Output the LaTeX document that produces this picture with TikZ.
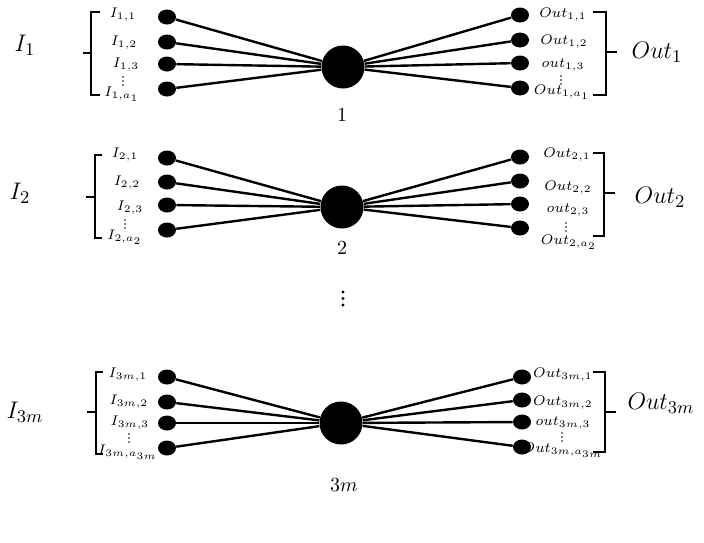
\documentclass[tikz,border=0pt]{standalone}
\usetikzlibrary{shapes.geometric}

\begin{document}
\begin{tikzpicture}[x=0.5pt, y=-0.5pt,
    dot/.style={ellipse, fill, minimum width=9pt, minimum height=7.5pt, inner sep=0pt},
    hub/.style={circle, fill, minimum size=21.5pt, inner sep=0pt},
    lab/.style={font=\fontsize{7.5}{8}\selectfont, inner sep=0pt},
    big/.style={font=\fontsize{12.5}{14}\selectfont, inner sep=0pt},
    num/.style={font=\fontsize{10}{11}\selectfont, inner sep=0pt},
    edge/.style={line width=1.2pt},
    brk/.style={line width=1pt}]
    \useasboundingbox (0,0) rectangle (704,542);

    % block 1
    \node at (343, 67) [hub] (h1) {};
    \node at (342, 115) [num] {$1$};
    \node at (167, 17) [dot] (a11) {};
    \node at (167, 42) [dot] (a12) {};
    \node at (167, 64) [dot] (a13) {};
    \node at (167, 89) [dot] (a14) {};
    \node at (520, 15) [dot] (b11) {};
    \node at (520, 40) [dot] (b12) {};
    \node at (520, 63) [dot] (b13) {};
    \node at (520, 88) [dot] (b14) {};

    \draw[edge] (a11) -- (h1);
    \draw[edge] (a12) -- (h1);
    \draw[edge] (a13) -- (h1);
    \draw[edge] (a14) -- (h1);
    \draw[edge] (h1) -- (b11);
    \draw[edge] (h1) -- (b12);
    \draw[edge] (h1) -- (b13);
    \draw[edge] (h1) -- (b14);

    \node at (123, 15) [lab] {$I_{1,1}$};
    \node at (124, 43) [lab] {$I_{1,2}$};
    \node at (126, 65) [lab] {$I_{1,3}$};
    \node at (122, 94) [lab] {$I_{1,a_1}$};
    \node at (563, 15) [lab] {$Out_{1,1}$};
    \node at (564, 42) [lab] {$Out_{1,2}$};
    \node at (563, 65) [lab] {$out_{1,3}$};
    \node at (562, 92) [lab] {$Out_{1,a_1}$};
    \fill (123, 77) circle (0.8) (123, 81) circle (0.8) (123, 85) circle (0.8);
    \fill (561, 76) circle (0.8) (561, 80) circle (0.8) (561, 84) circle (0.8);

    \draw[brk] (100, 12) -- (91, 12) -- (91, 95) -- (100, 95);
    \draw[brk] (91, 53) -- (83, 53);
    \draw[brk] (593, 12) -- (606, 12) -- (606, 95) -- (593, 95);
    \draw[brk] (606, 52) -- (617, 52);
    \node at (25, 45) [big] {$I_1$};
    \node at (657, 52) [big] {$Out_1$};

    % block 2
    \node at (342, 207) [hub] (h2) {};
    \node at (342, 248) [num] {$2$};
    \node at (167, 158) [dot] (a21) {};
    \node at (167, 182) [dot] (a22) {};
    \node at (167, 205) [dot] (a23) {};
    \node at (167, 230) [dot] (a24) {};
    \node at (520, 157) [dot] (b21) {};
    \node at (520, 181) [dot] (b22) {};
    \node at (520, 204) [dot] (b23) {};
    \node at (520, 228) [dot] (b24) {};

    \draw[edge] (a21) -- (h2);
    \draw[edge] (a22) -- (h2);
    \draw[edge] (a23) -- (h2);
    \draw[edge] (a24) -- (h2);
    \draw[edge] (h2) -- (b21);
    \draw[edge] (h2) -- (b22);
    \draw[edge] (h2) -- (b23);
    \draw[edge] (h2) -- (b24);

    \node at (125, 155) [lab] {$I_{2,1}$};
    \node at (127, 183) [lab] {$I_{2,2}$};
    \node at (130, 208) [lab] {$I_{2,3}$};
    \node at (125, 237) [lab] {$I_{2,a_2}$};
    \node at (567, 155) [lab] {$Out_{2,1}$};
    \node at (568, 188) [lab] {$Out_{2,2}$};
    \node at (568, 210) [lab] {$out_{2,3}$};
    \node at (569, 242) [lab] {$Out_{2,a_2}$};
    \fill (125, 220) circle (0.8) (125, 224) circle (0.8) (125, 228) circle (0.8);
    \fill (566, 223) circle (0.8) (566, 227) circle (0.8) (566, 231) circle (0.8);

    \draw[brk] (102, 155) -- (95, 155) -- (95, 238) -- (102, 238);
    \draw[brk] (95, 197) -- (86, 197);
    \draw[brk] (593, 153) -- (604, 153) -- (604, 236) -- (593, 236);
    \draw[brk] (604, 193) -- (615, 193);
    \node at (20, 193) [big] {$I_2$};
    \node at (660, 197) [big] {$Out_2$};

    % dots between the blocks
    \fill (343, 292) circle (1.6) (343, 298.5) circle (1.6) (343, 305) circle (1.6);

    % block 3m
    \node at (341, 423) [hub] (h3) {};
    \node at (344, 485) [num] {$3m$};
    \node at (167, 377) [dot] (a31) {};
    \node at (167, 402) [dot] (a32) {};
    \node at (167, 423) [dot] (a33) {};
    \node at (167, 448) [dot] (a34) {};
    \node at (522, 377) [dot] (b31) {};
    \node at (522, 400) [dot] (b32) {};
    \node at (522, 422) [dot] (b33) {};
    \node at (522, 447) [dot] (b34) {};

    \draw[edge] (a31) -- (h3);
    \draw[edge] (a32) -- (h3);
    \draw[edge] (a33) -- (h3);
    \draw[edge] (a34) -- (h3);
    \draw[edge] (h3) -- (b31);
    \draw[edge] (h3) -- (b32);
    \draw[edge] (h3) -- (b33);
    \draw[edge] (h3) -- (b34);

    \node at (128, 375) [lab] {$I_{3m,1}$};
    \node at (129, 402) [lab] {$I_{3m,2}$};
    \node at (130, 423) [lab] {$I_{3m,3}$};
    \node at (128, 452) [lab] {$I_{3m,a_{3m}}$};
    \node at (563, 375) [lab] {$Out_{3m,1}$};
    \node at (563, 403) [lab] {$Out_{3m,2}$};
    \node at (563, 423) [lab] {$out_{3m,3}$};
    \node at (563, 450) [lab] {$Out_{3m,a_{3m}}$};
    \fill (129, 434) circle (0.8) (129, 438) circle (0.8) (129, 442) circle (0.8);
    \fill (562, 433) circle (0.8) (562, 437) circle (0.8) (562, 441) circle (0.8);

    \draw[brk] (103, 372) -- (96, 372) -- (96, 454) -- (103, 454);
    \draw[brk] (96, 412) -- (87, 412);
    \draw[brk] (593, 372) -- (605, 372) -- (605, 452) -- (593, 452);
    \draw[brk] (605, 412) -- (616, 412);
    \node at (25, 412) [big] {$I_{3m}$};
    \node at (661, 403) [big] {$Out_{3m}$};

\end{tikzpicture}
\end{document}
